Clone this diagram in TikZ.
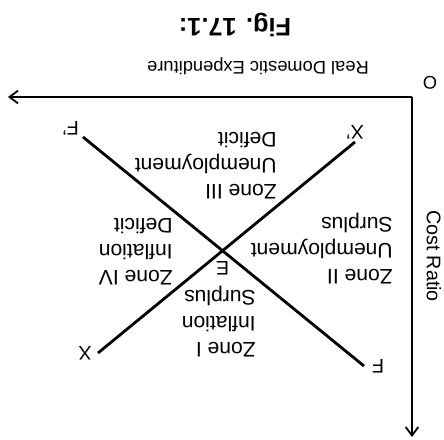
\documentclass[tikz,border=0pt]{standalone}
\usepackage{fontspec}
\setmainfont{Liberation Sans}
\usetikzlibrary{arrows.meta, positioning}

\begin{document}
\begin{tikzpicture}[x=0.025cm, y=0.025cm,
    axis/.style={line width=1.3pt, -{Straight Barb[length=6pt, width=9pt, line width=1.3pt]}},
    curve/.style={line width=2pt},
    zonetext/.style={anchor=west, align=left, font=\fontsize{15}{18.5}\selectfont, inner sep=0pt},
    ptlabel/.style={font=\fontsize{14}{16}\selectfont, inner sep=1pt}]
  % the whole figure is printed upside down
  \begin{scope}[rotate=180, transform shape]
    \useasboundingbox (-32,-97) rectangle (412,342);

    % --- Axes ---
    \coordinate (O) at (0,0);
    \coordinate (ytip) at (0,340);
    \coordinate (xtip) at (404,0);
    \draw[axis] (O) -- (ytip);
    \draw[axis] (O) -- (xtip);
    \node[font=\fontsize{13}{15}\selectfont] (olabel) at (-18,-14) {O};
    \node[rotate=90, font=\fontsize{14}{16}\selectfont] (costlabel) at (-22,159) {Cost Ratio};
    \node[font=\fontsize{13}{15}\selectfont] (rdelabel) at (154,-31) {Real Domestic Expenditure};
    \node[font=\bfseries\fontsize{18}{20}\selectfont] (figlabel) at (177,-72) {Fig. 17.1:};

    % --- FF' and XX' schedules ---
    \coordinate (F) at (48,269);
    \coordinate (Fp) at (329,40);
    \coordinate (Xp) at (57,45);
    \coordinate (X) at (314,256);
    \draw[curve] (F) -- (Fp);
    \draw[curve] (Xp) -- (X);
    \coordinate (E) at (intersection of F--Fp and Xp--X);

    \node[ptlabel, left=0.16cm of F] (flabel) {F};
    \node[ptlabel, below right=0.0cm and 0.06cm of Fp] (fplabel) {F'};
    \node[ptlabel, below=0.03cm of Xp] (xplabel) {X'};
    \node[ptlabel, right=0.12cm of X] (xlabel) {X};
    \node[ptlabel, above=0.22cm of E] (elabel) {E};

    % --- Zones ---
    \node[zonetext] (zone3) at (135,69) {Zone III\\Unemployment\\Deficit};
    \node[zonetext] (zone4) at (239,155) {Zone IV\\Inflation\\Deficit};
    \node[zonetext] (zone1) at (156,225) {Zone I\\Inflation\\Surplus};
    \node[zonetext] (zone2) at (19,152) {Zone II\\Unemployment\\Surplus};
  \end{scope}
\end{tikzpicture}
\end{document}
